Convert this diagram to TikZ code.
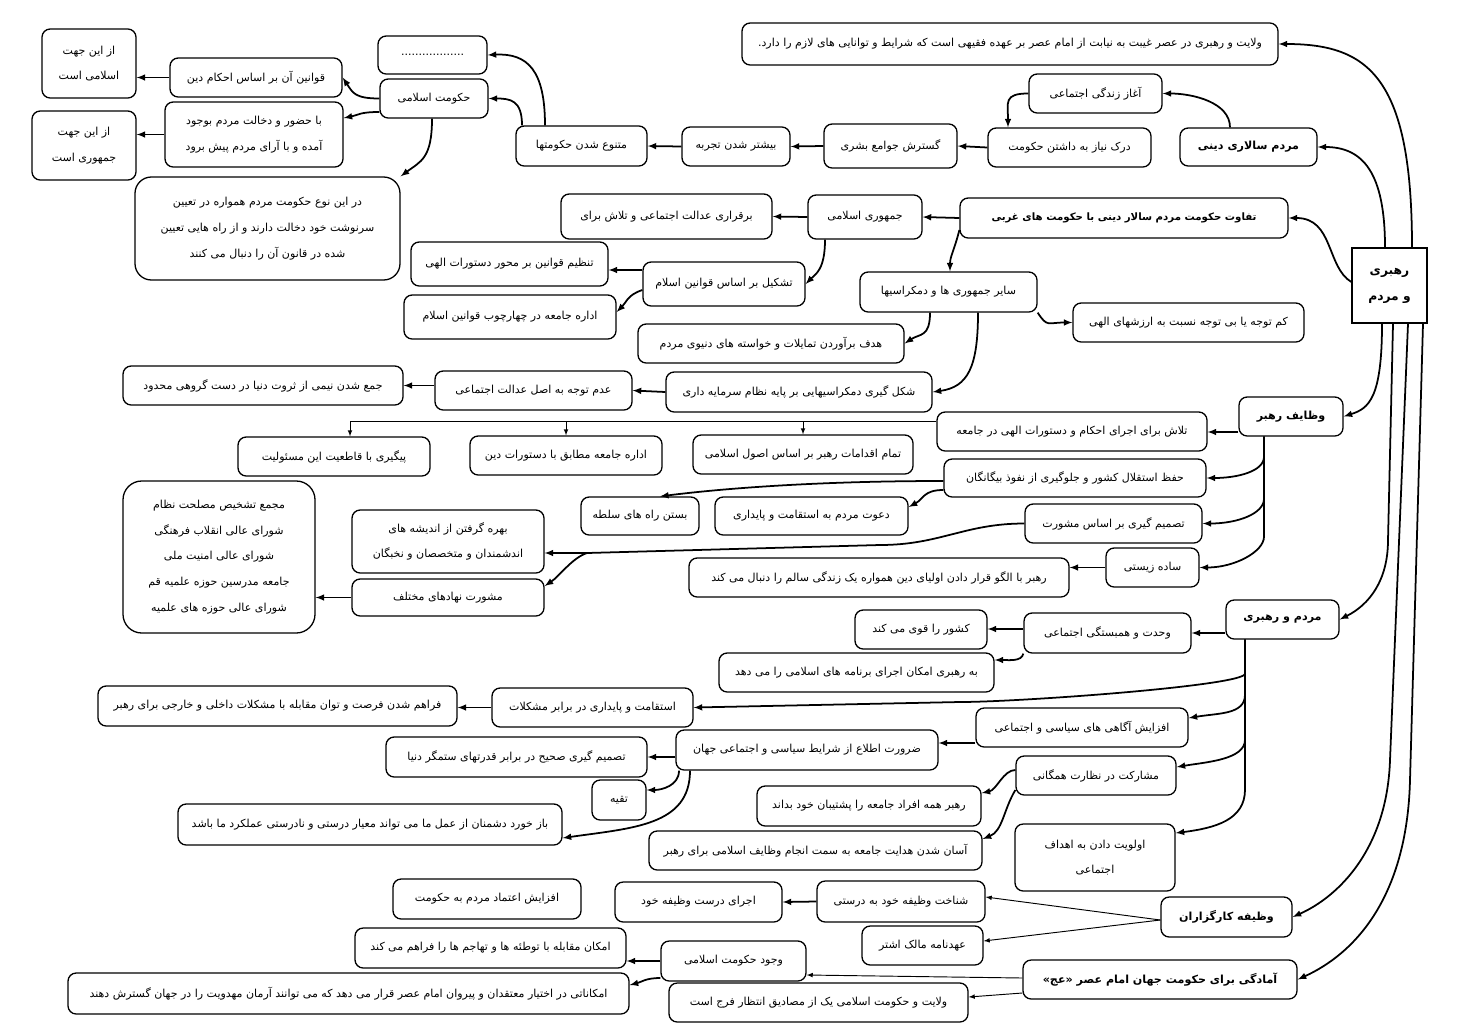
\documentclass[tikz,border=0pt]{standalone}
\usepackage{fontspec}
\newfontfamily\fa[Script=Arabic]{DejaVu Sans}
\TeXXeTstate=1
\newcommand\fr[1]{\beginR#1\endR}
\tikzset{spot/.style n args={4}{minimum width={(#3-#1)*0.03cm},minimum height={(#4-#2)*0.03cm},
    at={({(#1+#3)/2},{(#2+#4)/2})}},
  box/.style={draw,rounded corners=7pt,line width=1.1pt,inner sep=1pt,align=center,
    font=\fa\fontsize{9.4}{22}\selectfont},
  headbox/.style={box,font=\fa\bfseries\fontsize{9.5}{22}\selectfont},
  link/.style={-latex,line width=1.5pt},
  wire/.style={-latex,line width=0.8pt}}

\begin{document}
\begin{tikzpicture}[x=0.03cm,y=-0.03cm]
  \path[use as bounding box,fill=white] (0,0) rectangle (1462,1034);
  % top
  \node[box,spot={742}{23}{1278}{65}] (n_wil) {\fr{ولایت و رهبری در عصر غیبت به نیابت از امام عصر بر عهده فقیهی است که شرایط و توانایی های لازم را دارد.}};
  \node[box,spot={1029}{74}{1162}{113}] (n_aghaz) {\fr{آغاز زندگی اجتماعی}};
  \node[box,spot={988}{128}{1151}{167}] (n_dark) {\fr{درک نیاز به داشتن حکومت}};
  \node[headbox,spot={1180}{128}{1317}{166}] (n_msd) {\fr{مردم سالاری دینی}};
  \node[box,spot={824}{124}{957}{168}] (n_gostaresh) {\fr{گسترش جوامع بشری}};
  \node[box,spot={682}{127}{790}{166}] (n_bishtar) {\fr{بیشتر شدن تجربه}};
  \node[box,spot={516}{126}{647}{166}] (n_motanave) {\fr{متنوع شدن حکومتها}};
  \node[box,spot={378}{36}{487}{74}] (n_dots) {..................};
  \node[box,spot={380}{79}{488}{118}] (n_hokumat) {\fr{حکومت اسلامی}};
  \node[box,spot={170}{58}{342}{97}] (n_ghavanin) {\fr{قوانین آن بر اساس احکام دین}};
  \node[box,spot={42}{29}{136}{98}] (n_eslami) {\fr{از این جهت}\\\fr{اسلامی است}};
  \node[box,spot={165}{102}{343}{167}] (n_hozur) {\fr{با حضور و دخالت مردم بوجود}\\\fr{آمده و با آرای مردم پیش برود}};
  \node[box,spot={32}{111}{136}{180}] (n_jomhuri) {\fr{از این جهت}\\\fr{جمهوری است}};
  \node[box,rounded corners=14pt,spot={135}{177}{400}{280}] (n_noe) {\fr{در این نوع حکومت مردم همواره در تعیین}\\\fr{سرنوشت خود دخالت دارند و از راه هایی تعیین}\\\fr{شده در قانون آن را دنبال می کنند}};
  % second block
  \node[headbox,font=\fa\bfseries\fontsize{8.7}{22}\selectfont,spot={960}{198}{1288}{238}] (n_tafavot) {\fr{تفاوت حکومت مردم سالار دینی با حکومت های غربی}};
  \node[box,spot={808}{195}{922}{239}] (n_ji) {\fr{جمهوری اسلامی}};
  \node[box,spot={561}{194}{772}{239}] (n_bargharari) {\fr{برقراری عدالت اجتماعی و تلاش برای}};
  \node[box,spot={411}{242}{608}{286}] (n_tanzim) {\fr{تنظیم قوانین بر محور دستورات الهی}};
  \node[box,spot={643}{262}{805}{306}] (n_tashkil) {\fr{تشکیل بر اساس قوانین اسلام}};
  \node[box,spot={404}{295}{616}{339}] (n_edare) {\fr{اداره جامعه در چهارچوب قوانین اسلام}};
  \node[box,spot={860}{272}{1037}{312}] (n_sayer) {\fr{سایر جمهوری ها و دمکراسیها}};
  \node[box,spot={1073}{303}{1304}{342}] (n_kam) {\fr{کم توجه یا بی توجه نسبت به ارزشهای الهی}};
  \node[box,spot={638}{324}{904}{363}] (n_hadaf) {\fr{هدف برآوردن تمایلات و خواسته های دنیوی مردم}};
  \node[box,spot={666}{372}{932}{412}] (n_shekl) {\fr{شکل گیری دمکراسیهایی بر پایه نظام سرمایه داری}};
  \node[box,spot={435}{371}{632}{410}] (n_adam) {\fr{عدم توجه به اصل عدالت اجتماعی}};
  \node[box,spot={123}{366}{403}{405}] (n_jam) {\fr{جمع شدن نیمی از ثروت دنیا در دست گروهی محدود}};
  % root
  \node[headbox,rounded corners=0pt,font=\fa\bfseries\fontsize{10.5}{22}\selectfont,spot={1352}{248}{1427}{323}] (n_root) {\fr{رهبری}\\\fr{و مردم}};
  % leader
  \node[headbox,spot={1239}{397}{1343}{436}] (n_vazayef) {\fr{وظایف رهبر}};
  \node[box,spot={937}{412}{1207}{451}] (n_talash) {\fr{تلاش برای اجرای احکام و دستورات الهی در جامعه}};
  \node[box,spot={693}{435}{913}{474}] (n_tamam) {\fr{تمام اقدامات رهبر بر اساس اصول اسلامی}};
  \node[box,spot={470}{436}{662}{475}] (n_edare2) {\fr{اداره جامعه مطابق با دستورات دین}};
  \node[box,spot={238}{437}{430}{476}] (n_peygiri) {\fr{پیگیری با قاطعیت این مسئولیت}};
  \node[box,spot={944}{459}{1206}{497}] (n_hefz) {\fr{حفظ استقلال کشور و جلوگیری از نفوذ بیگانگان}};
  \node[box,spot={581}{497}{699}{535}] (n_bastan) {\fr{بستن راه های سلطه}};
  \node[box,spot={715}{497}{908}{535}] (n_davat) {\fr{دعوت مردم به استقامت و پایداری}};
  \node[box,spot={1025}{504}{1202}{543}] (n_tasmim) {\fr{تصمیم گیری بر اساس مشورت}};
  \node[box,spot={352}{510}{544}{573}] (n_bahre) {\fr{بهره گرفتن از اندیشه های}\\\fr{اندشمندان و متخصصان و نخبگان}};
  \node[box,spot={352}{579}{544}{616}] (n_mashvarat) {\fr{مشورت نهادهای مختلف}};
  \node[box,rounded corners=16pt,spot={123}{481}{315}{633}] (n_list) {\fr{مجمع تشخیص مصلحت نظام}\\\fr{شورای عالی انقلاب فرهنگی}\\\fr{شورای عالی امنیت ملی}\\\fr{جامعه مدرسین حوزه علمیه قم}\\\fr{شورای عالی حوزه های علمیه}};
  \node[box,spot={1106}{548}{1199}{587}] (n_sade) {\fr{ساده زیستی}};
  \node[box,spot={689}{558}{1069}{597}] (n_olgu) {\fr{رهبر با الگو قرار دادن اولیای دین همواره یک زندگی سالم را دنبال می کند}};
  % people
  \node[headbox,spot={1226}{600}{1339}{639}] (n_mr) {\fr{مردم و رهبری}};
  \node[box,spot={1024}{613}{1191}{653}] (n_vahdat) {\fr{وحدت و همبستگی اجتماعی}};
  \node[box,spot={855}{610}{987}{649}] (n_keshvar) {\fr{کشور را قوی می کند}};
  \node[box,spot={719}{653}{994}{692}] (n_berahbari) {\fr{به رهبری امکان اجرای برنامه های اسلامی را می دهد}};
  \node[box,spot={492}{688}{693}{727}] (n_esteghamat) {\fr{استقامت و پایداری در برابر مشکلات}};
  \node[box,spot={98}{686}{457}{726}] (n_faraham) {\fr{فراهم شدن فرصت و توان مقابله با مشکلات داخلی و خارجی برای رهبر}};
  \node[box,spot={976}{708}{1188}{747}] (n_afzayesh) {\fr{افزایش آگاهی های سیاسی و اجتماعی}};
  \node[box,spot={676}{730}{938}{770}] (n_zarurat) {\fr{ضرورت اطلاع از شرایط سیاسی و اجتماعی جهان}};
  \node[box,spot={386}{737}{647}{777}] (n_sahih) {\fr{تصمیم گیری صحیح در برابر قدرتهای ستمگر دنیا}};
  \node[box,spot={592}{780}{646}{820}] (n_taghiye) {\fr{تقیه}};
  \node[box,spot={178}{804}{562}{845}] (n_baz) {\fr{باز خورد دشمنان از عمل ما می تواند معیار درستی و نادرستی عملکرد ما باشد}};
  \node[box,spot={1016}{756}{1176}{795}] (n_mosharekat) {\fr{مشارکت در نظارت همگانی}};
  \node[box,spot={757}{786}{981}{826}] (n_poshtiban) {\fr{رهبر همه افراد جامعه را پشتیبان خود بداند}};
  \node[box,spot={649}{831}{982}{870}] (n_asan) {\fr{آسان شدن هدایت جامعه به سمت انجام وظایف اسلامی برای رهبر}};
  \node[box,spot={1015}{824}{1175}{891}] (n_olaviyat) {\fr{اولویت دادن به اهداف}\\\fr{اجتماعی}};
  % officials
  \node[headbox,spot={1161}{897}{1292}{937}] (n_kargozar) {\fr{وظیفه کارگزاران}};
  \node[box,spot={817}{881}{985}{922}] (n_shenakht) {\fr{شناخت وظیفه خود به درستی}};
  \node[box,spot={862}{926}{983}{965}] (n_ahdname) {\fr{عهدنامه مالک اشتر}};
  \node[box,spot={615}{882}{782}{922}] (n_ejra) {\fr{اجرای درست وظیفه خود}};
  \node[box,spot={393}{879}{581}{919}] (n_etemad) {\fr{افزایش اعتماد مردم به حکومت}};
  % readiness
  \node[headbox,spot={1023}{960}{1297}{999}] (n_amadegi) {\fr{آمادگی برای حکومت جهان امام عصر «عج»}};
  \node[box,spot={661}{941}{806}{981}] (n_vojud) {\fr{وجود حکومت اسلامی}};
  \node[box,spot={355}{928}{626}{968}] (n_moghabele) {\fr{امکان مقابله با توطئه ها و تهاجم ها را فراهم می کند}};
  \node[box,spot={68}{973}{629}{1014}] (n_emkanat) {\fr{امکاناتی در اختیار معتقدان و پیروان امام عصر قرار می دهد که می توانند آرمان مهدویت را در جهان گسترش دهند}};
  \node[box,spot={669}{983}{968}{1022}] (n_entezar) {\fr{ولایت و حکومت اسلامی یک از مصادیق انتظار فرج است}};

  % from the root
  \draw[link] (n_root.north -| 1412,0) .. controls +(0,-170) and +(90,0) .. (n_wil.east);
  \draw[link] (n_root.north -| 1385,0) .. controls +(0,-75) and +(45,0) .. (n_msd.east);
  \draw[link] (n_root.west |- 0,282) .. controls +(-25,-15) and +(45,0) .. (n_tafavot.east);
  \draw[link] (n_root.south -| 1382,0) .. controls +(0,75) and +(25,-8) .. (n_vazayef.east);
  \draw[link] (n_root.south -| 1393,0) -- (1388,540) .. controls +(0,40) and +(30,-15) .. (n_mr.east);
  \draw[link] (n_root.south -| 1408,0) -- (1390,760) .. controls +(-3,90) and +(45,-20) .. (n_kargozar.east);
  \draw[link] (n_root.south -| 1423,0) -- (1410,780) .. controls +(-3,120) and +(55,-25) .. (n_amadegi.east);

  % religious democracy
  \draw[link] (n_msd.north -| 1230,0) .. controls +(0,-25) and +(30,0) .. (n_aghaz.east);
  \draw[link] (n_aghaz.west) .. controls +(-25,0) and +(0,-25) .. (n_dark.north -| 1008,0);
  \draw[link] (n_dark.west) -- (n_gostaresh.east);
  \draw[link] (n_gostaresh.west) -- (n_bishtar.east);
  \draw[link] (n_bishtar.west) -- (n_motanave.east);
  \draw[link] (n_motanave.north -| 545,0) .. controls +(0,-55) and +(40,-2) .. (n_dots.east);
  \draw[link] (n_motanave.north -| 522,0) .. controls +(0,-25) and +(22,0) .. (n_hokumat.east);
  \draw[link] (n_hokumat.west) .. controls +(-25,0) and +(10,15) .. (n_ghavanin.east);
  \draw[link] (n_hokumat.west |- 0,112) .. controls +(-20,0) and +(15,-3) .. (n_hozur.east |- 0,118);
  \draw[link] (n_hokumat.south -| 432,0) .. controls +(0,40) and +(20,-15) .. (n_noe.north east);
  \draw[link] (n_ghavanin.west) -- (n_eslami.east |- n_ghavanin.west);
  \draw[link] (n_hozur.west) -- (n_jomhuri.east |- n_hozur.west);

  % difference with western governments
  \draw[link] (n_tafavot.west) -- (n_ji.east);
  \draw[link] (n_tafavot.west |- 0,230) .. controls +(-5,20) and +(0,-15) .. (n_sayer.north -| 950,0);
  \draw[link] (n_ji.west) -- (n_bargharari.east);
  \draw[link] (n_ji.south -| 825,0) .. controls +(0,30) and +(10,-10) .. (n_tashkil.east);
  \draw[link] (n_tashkil.west |- 0,270) -- (n_tanzim.east |- 0,270);
  \draw[link] (n_tashkil.west |- 0,290) .. controls +(-15,5) and +(10,-10) .. (n_edare.east |- 0,312);
  \draw[link] (n_sayer.south east) .. controls +(10,15) and +(-25,0) .. (n_kam.west);
  \draw[link] (n_sayer.south -| 930,0) .. controls +(0,25) and +(15,-10) .. (n_hadaf.east);
  \draw[link] (n_sayer.south -| 978,0) .. controls +(0,55) and +(35,-5) .. (n_shekl.east);
  \draw[link] (n_shekl.west) -- (n_adam.east);
  \draw[link] (n_adam.west |- n_jam.east) -- (n_jam.east);

  % duties of the leader
  \coordinate (bus) at (0,421);
  \draw[link] (n_vazayef.west |- 0,432) -- (n_talash.east |- 0,432);
  \draw[wire] (n_talash.west |- bus) -| (n_peygiri.north -| 350,0);
  \draw[wire] (n_tamam.north |- bus) -- (n_tamam.north);
  \draw[wire] (n_edare2.north |- bus) -- (n_edare2.north);
  \draw[link] (n_vazayef.south -| 1264,0) -- ++(0,20) .. controls +(0,15) and +(30,0) .. (n_hefz.east);
  \draw[link] (n_vazayef.south -| 1264,0) -- ++(0,62) .. controls +(0,15) and +(35,0) .. (n_tasmim.east);
  \draw[link] (n_vazayef.south -| 1264,0) -- ++(0,100) .. controls +(0,15) and +(35,0) .. (n_sade.east);
  \draw[link] (n_hefz.west |- 0,481) .. controls +(-150,0) and +(40,-5) .. (n_bastan.north -| 660,0);
  \draw[link] (n_hefz.west |- 0,490) .. controls +(-20,0) and +(15,-8) .. (n_davat.east |- 0,507);
  \draw[link] (n_tasmim.west) .. controls +(-60,0) and +(60,0) .. (880,545) -- (587,553) coordinate (fork) -- (n_bahre.east |- 0,553);
  \draw[link] (fork) .. controls +(-15,5) and +(15,-10) .. (n_mashvarat.east |- 0,586);
  \draw[link] (n_mashvarat.west) -- (n_list.east |- n_mashvarat.west);
  \draw[link] (n_sade.west) -- (n_olgu.east |- n_sade.west);

  % people and leadership
  \draw[link] (n_mr.west |- n_vahdat.east) -- (n_vahdat.east);
  \draw[link] (n_vahdat.west |- 0,629) -- (n_keshvar.east |- 0,629);
  \draw[link] (n_vahdat.south west) .. controls +(-2,8) and +(15,0) .. (n_berahbari.east |- 0,660);
  \draw[link] (n_mr.south -| 1245,0) -- ++(0,34) .. controls +(0,12) and +(60,0) .. (960,702) -- (n_esteghamat.east);
  \draw[link] (n_mr.south -| 1245,0) -- ++(0,55) .. controls +(0,20) and +(30,-5) .. (n_afzayesh.east |- 0,718);
  \draw[link] (n_mr.south -| 1245,0) -- ++(0,100) .. controls +(0,20) and +(30,-5) .. (n_mosharekat.east |- 0,767);
  \draw[link] (n_mr.south -| 1245,0) -- ++(0,150) .. controls +(0,30) and +(40,-5) .. (n_olaviyat.east |- 0,833);
  \draw[link] (n_esteghamat.west) -- (n_faraham.east |- n_esteghamat.west);
  \draw[link] (n_afzayesh.west |- 0,743) -- (n_zarurat.east |- 0,743);
  \draw[link] (n_zarurat.west |- n_sahih.east) -- (n_sahih.east);
  \draw[link] (n_zarurat.south -| 679,0) .. controls +(0,15) and +(15,0) .. (n_taghiye.east |- 0,790);
  \draw[link] (n_zarurat.south -| 690,0) .. controls +(0,55) and +(70,-10) .. (n_baz.east |- 0,838);
  \draw[link] (n_mosharekat.west |- 0,770) .. controls +(-12,0) and +(15,-3) .. (n_poshtiban.east |- 0,793);
  \draw[link] (n_mosharekat.west |- 0,790) .. controls +(-12,20) and +(20,-8) .. (n_asan.east |- 0,839);

  % officials
  \draw[wire] (n_kargozar.west |- 0,920) -- (n_shenakht.east |- 0,897);
  \draw[wire] (n_kargozar.west |- 0,920) -- (n_ahdname.east |- 0,941);
  \draw[link] (n_shenakht.west) -- (n_ejra.east);

  % readiness
  \draw[wire] (n_amadegi.west |- 0,978) -- (n_vojud.east |- 0,975);
  \draw[wire] (n_amadegi.west |- 0,993) -- (n_entezar.east |- 0,997);
  \draw[link] (n_vojud.west |- 0,961) -- (n_moghabele.east |- 0,961);
  \draw[link] (n_vojud.west |- 0,978) .. controls +(-15,0) and +(12,-3) .. (n_emkanat.east |- 0,985);
\end{tikzpicture}
\end{document}
